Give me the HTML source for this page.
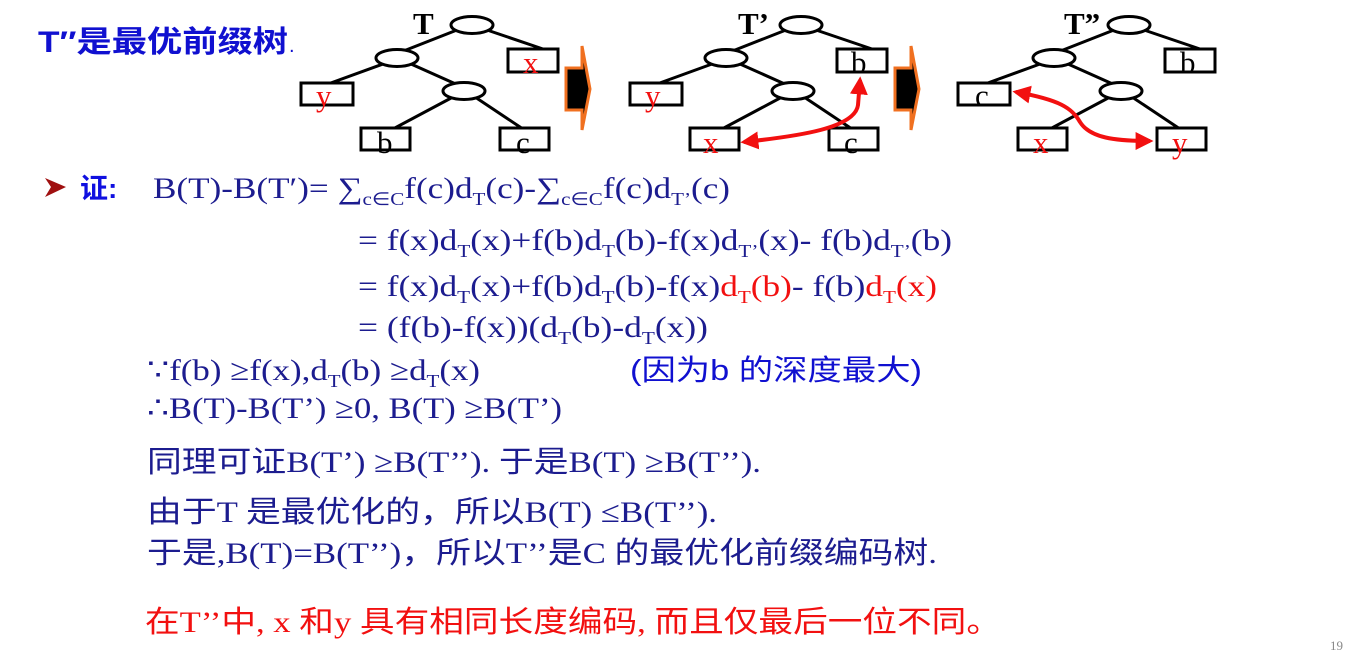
<!DOCTYPE html>
<html><head><meta charset="utf-8"><style>
html,body{margin:0;padding:0;background:#fff;width:1356px;height:653px;overflow:hidden}
svg{display:block}
</style></head><body>
<svg width="1356" height="653" viewBox="0 0 1356 653" xmlns="http://www.w3.org/2000/svg">
<defs>
<marker id="ah" viewBox="0 0 10 10" refX="8" refY="5" markerWidth="4.5" markerHeight="4.5" orient="auto-start-reverse"><path d="M0,0 L10,5 L0,10 z" fill="#f21010"/></marker>
<g id="tree" stroke="#000" stroke-width="3" fill="#fff">
<line x1="1114" y1="30" x2="1058" y2="52"/>
<line x1="1144" y1="30" x2="1200" y2="49"/>
<line x1="1040" y1="64" x2="985" y2="84"/>
<line x1="1068" y1="64" x2="1115" y2="85"/>
<line x1="1110" y1="97" x2="1050" y2="129"/>
<line x1="1132" y1="97" x2="1180" y2="129"/>
<ellipse cx="1129" cy="25" rx="21" ry="8.5"/>
<ellipse cx="1054" cy="58" rx="21" ry="8.5"/>
<ellipse cx="1121" cy="91" rx="21" ry="8.5"/>
<rect x="1165" y="49" width="50" height="23"/>
<rect x="958" y="83" width="52" height="22"/>
<rect x="1018" y="128" width="49" height="22"/>
<rect x="1157" y="128" width="49" height="22"/>
</g>
<g id="chev"><polygon points="566,68 582,68 582,46 590,89 582,130 582,110 566,110" fill="#000" stroke="#f07020" stroke-width="3"/></g>
</defs>

<text x="38" y="52" textLength="250" lengthAdjust="spacingAndGlyphs" style="font-family:'Liberation Sans','Noto Sans CJK SC',sans-serif;font-weight:bold;font-size:30px;fill:#1010d0">T′′是最优前缀树</text>
<text x="289" y="52" style="font-family:'Liberation Sans',sans-serif;font-size:20px;fill:#1010d0">.</text>

<use href="#tree" transform="translate(-657,0)"/>
<use href="#tree" transform="translate(-328,0)"/>
<use href="#tree"/>
<use href="#chev"/>
<use href="#chev" transform="translate(329,0)"/>

<g style="font-family:'Liberation Serif',serif;font-size:31px">
<text x="413" y="34" font-weight="bold" font-size="31">T</text>
<text x="738" y="34" font-weight="bold" font-size="31">T’</text>
<text x="1064" y="34" font-weight="bold" font-size="31">T”</text>
<text x="523" y="73" fill="#f21010">x</text>
<text x="316" y="106" fill="#f21010">y</text>
<text x="377" y="153">b</text>
<text x="516" y="153">c</text>
<text x="851" y="73">b</text>
<text x="645" y="106" fill="#f21010">y</text>
<text x="703" y="153" fill="#f21010">x</text>
<text x="844" y="153">c</text>
<text x="1180" y="73">b</text>
<text x="975" y="106">c</text>
<text x="1033" y="153" fill="#f21010">x</text>
<text x="1172" y="153" fill="#f21010">y</text>
</g>
<path d="M744,142 C800,136 855,128 858,105 L860,80" fill="none" stroke="#f21010" stroke-width="4" marker-start="url(#ah)" marker-end="url(#ah)"/>
<path d="M1016,92 C1060,100 1072,108 1080,122 C1090,138 1115,141 1150,141" fill="none" stroke="#f21010" stroke-width="4" marker-start="url(#ah)" marker-end="url(#ah)"/>

<polygon points="45,178 66,187 45,197 51,187" fill="#a01010"/>
<text x="80" y="198" style="font-family:'Liberation Sans','Noto Sans CJK SC',sans-serif;font-weight:bold;font-size:28px;fill:#1010e0">证:</text>

<g style="font-family:'Liberation Serif',serif;font-size:30px;fill:#1c1c8f">
<text x="153" y="198" textLength="577" lengthAdjust="spacingAndGlyphs">B(T)-B(T′)= ∑<tspan font-size="18" dy="7">c∈C</tspan><tspan dy="-7">f(c)d</tspan><tspan font-size="18" dy="7">T</tspan><tspan dy="-7">(c)-∑</tspan><tspan font-size="18" dy="7">c∈C</tspan><tspan dy="-7">f(c)d</tspan><tspan font-size="18" dy="7">T’</tspan><tspan dy="-7">(c)</tspan></text>
<text x="358" y="250" textLength="594" lengthAdjust="spacingAndGlyphs">= f(x)d<tspan font-size="18" dy="7">T</tspan><tspan dy="-7">(x)+f(b)d</tspan><tspan font-size="18" dy="7">T</tspan><tspan dy="-7">(b)-f(x)d</tspan><tspan font-size="18" dy="7">T’</tspan><tspan dy="-7">(x)- f(b)d</tspan><tspan font-size="18" dy="7">T’</tspan><tspan dy="-7">(b)</tspan></text>
<text x="358" y="296" textLength="579" lengthAdjust="spacingAndGlyphs">= f(x)d<tspan font-size="18" dy="7">T</tspan><tspan dy="-7">(x)+f(b)d</tspan><tspan font-size="18" dy="7">T</tspan><tspan dy="-7">(b)-f(x)</tspan><tspan fill="#f21010">d</tspan><tspan fill="#f21010" font-size="18" dy="7">T</tspan><tspan fill="#f21010" dy="-7">(b)</tspan>- f(b)<tspan fill="#f21010">d</tspan><tspan fill="#f21010" font-size="18" dy="7">T</tspan><tspan fill="#f21010" dy="-7">(x)</tspan></text>
<text x="358" y="337" textLength="350" lengthAdjust="spacingAndGlyphs">= (f(b)-f(x))(d<tspan font-size="18" dy="7">T</tspan><tspan dy="-7">(b)-d</tspan><tspan font-size="18" dy="7">T</tspan><tspan dy="-7">(x))</tspan></text>
<text x="147" y="380" textLength="333" lengthAdjust="spacingAndGlyphs">∵f(b) ≥f(x),d<tspan font-size="18" dy="7">T</tspan><tspan dy="-7">(b) ≥d</tspan><tspan font-size="18" dy="7">T</tspan><tspan dy="-7">(x)</tspan></text>
<text x="147" y="418" textLength="415" lengthAdjust="spacingAndGlyphs">∴B(T)-B(T’) ≥0, B(T) ≥B(T’)</text>
</g>
<text x="630" y="380" textLength="292" lengthAdjust="spacingAndGlyphs" style="font-family:'Liberation Sans','Noto Sans CJK SC',sans-serif;font-size:29px;fill:#1010d0">(因为b 的深度最大)</text>

<g style="font-family:'Liberation Serif','Noto Sans CJK SC',serif;font-size:30px;fill:#1c1c8f">
<text x="147" y="472" textLength="614" lengthAdjust="spacingAndGlyphs">同理可证B(T’) ≥B(T’’). 于是B(T) ≥B(T’’).</text>
<text x="147" y="522" textLength="570" lengthAdjust="spacingAndGlyphs">由于T 是最优化的，所以B(T) ≤B(T’’).</text>
<text x="147" y="563" textLength="790" lengthAdjust="spacingAndGlyphs">于是,B(T)=B(T’’)，所以T’’是C 的最优化前缀编码树.</text>
<text x="145" y="632" textLength="856" lengthAdjust="spacingAndGlyphs" fill="#f21010">在T’’中, x 和y 具有相同长度编码, 而且仅最后一位不同。</text>
</g>
<text x="1330" y="650" style="font-family:'Liberation Serif',serif;font-size:13px;fill:#888">19</text>
</svg>
</body></html>
